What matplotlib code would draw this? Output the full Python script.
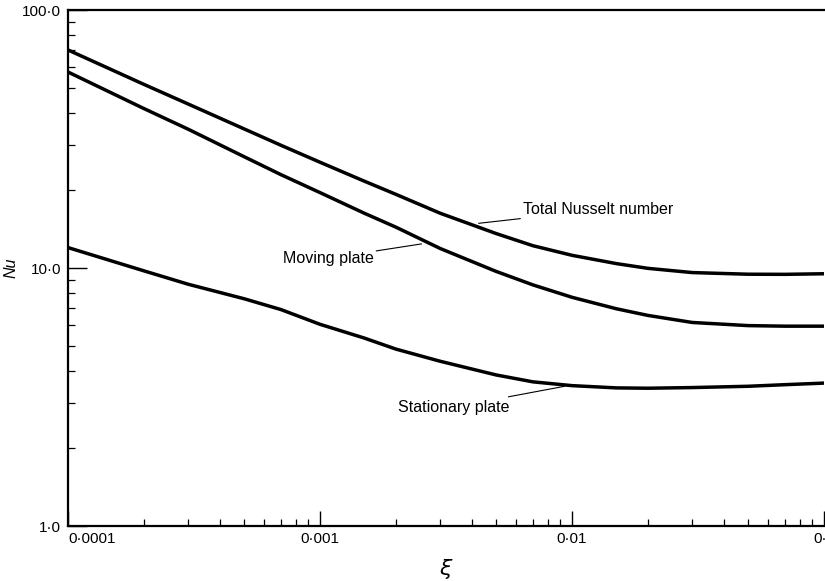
import matplotlib
matplotlib.use("Agg")
import matplotlib.pyplot as plt
from matplotlib.ticker import LogLocator, NullFormatter, FixedLocator, FixedFormatter

# Data
xi = [1e-4, 2e-4, 3e-4, 5e-4, 7e-4, 1e-3, 1.5e-3, 2e-3, 3e-3, 5e-3, 7e-3,
      1e-2, 1.5e-2, 2e-2, 3e-2, 5e-2, 7e-2, 1e-1]
nu_total = [70.0, 51.5, 43.2, 34.6, 29.9, 25.7, 21.7, 19.3, 16.3, 13.6, 12.2,
            11.2, 10.4, 9.97, 9.6, 9.46, 9.45, 9.5]
nu_moving = [57.5, 41.5, 34.5, 27.0, 23.0, 19.6, 16.3, 14.4, 11.9, 9.7, 8.6,
             7.7, 6.95, 6.55, 6.15, 5.98, 5.95, 5.95]
nu_stationary = [12.0, 9.75, 8.65, 7.6, 6.9, 6.05, 5.35, 4.85, 4.35, 3.85, 3.62,
                 3.5, 3.43, 3.42, 3.44, 3.48, 3.53, 3.58]

x_ticks = [1e-4, 1e-3, 1e-2, 1e-1]
x_tick_labels = ["0·0001", "0·001", "0·01", "0·1"]
y_ticks = [1, 10, 100]
y_tick_labels = ["1·0", "10·0", "100·0"]

plt.rcParams['font.family'] = ['Liberation Sans', 'DejaVu Sans']

fig = plt.figure(figsize=(8.25, 5.81), dpi=100)
ax = fig.add_axes([68/825, 55/581, 756/825, 516/581])

for ys in (nu_total, nu_moving, nu_stationary):
    ax.plot(xi, ys, color='black', lw=2.5, solid_capstyle='round',
            solid_joinstyle='round')

ax.set_xscale('log')
ax.set_yscale('log')
ax.set_xlim(1e-4, 1e-1)
ax.set_ylim(1, 100)

ax.xaxis.set_major_locator(FixedLocator(x_ticks))
ax.xaxis.set_major_formatter(FixedFormatter(x_tick_labels))
ax.yaxis.set_major_locator(FixedLocator(y_ticks))
ax.yaxis.set_major_formatter(FixedFormatter(y_tick_labels))
ax.xaxis.set_minor_locator(LogLocator(base=10, subs=range(2, 10)))
ax.yaxis.set_minor_locator(LogLocator(base=10, subs=range(2, 10)))
ax.xaxis.set_minor_formatter(NullFormatter())
ax.yaxis.set_minor_formatter(NullFormatter())

ax.tick_params(axis='x', which='major', direction='in', length=11, width=1.0,
               labelsize=11, pad=4)
ax.tick_params(axis='y', which='major', direction='in', length=14, width=1.0,
               labelsize=11, pad=5)
ax.tick_params(which='minor', direction='in', length=5, width=0.9)
ax.tick_params(top=False, right=False, which='both')

for lbl in ax.get_xticklabels():
    if lbl.get_text() == "0·0001":
        lbl.set_ha('left')

ax.spines['right'].set_visible(False)
for s in ('left', 'bottom', 'top'):
    ax.spines[s].set_linewidth(1.6)

ax.set_xlabel(r'$\xi$', fontsize=16, labelpad=8)
ax.set_ylabel('Nu', fontsize=11.5, style='italic')
ax.yaxis.set_label_coords(-0.066, 0.5)

# Annotations with leader lines
ax.annotate('Total Nusselt number', xy=(4.26e-3, 14.9), xytext=(6.4e-3, 16.8),
            fontsize=11.5, ha='left', va='center',
            arrowprops=dict(arrowstyle='-', color='black', lw=0.8,
                            shrinkA=0, shrinkB=0))
ax.annotate('Moving plate', xy=(2.53e-3, 12.4), xytext=(1.63e-3, 10.9),
            fontsize=11.5, ha='right', va='center',
            arrowprops=dict(arrowstyle='-', color='black', lw=0.8,
                            shrinkA=0, shrinkB=0))
ax.annotate('Stationary plate', xy=(9.35e-3, 3.48), xytext=(5.64e-3, 2.89),
            fontsize=11.5, ha='right', va='center',
            arrowprops=dict(arrowstyle='-', color='black', lw=0.8,
                            shrinkA=0, shrinkB=0))

fig.savefig('out.png', dpi=100)
